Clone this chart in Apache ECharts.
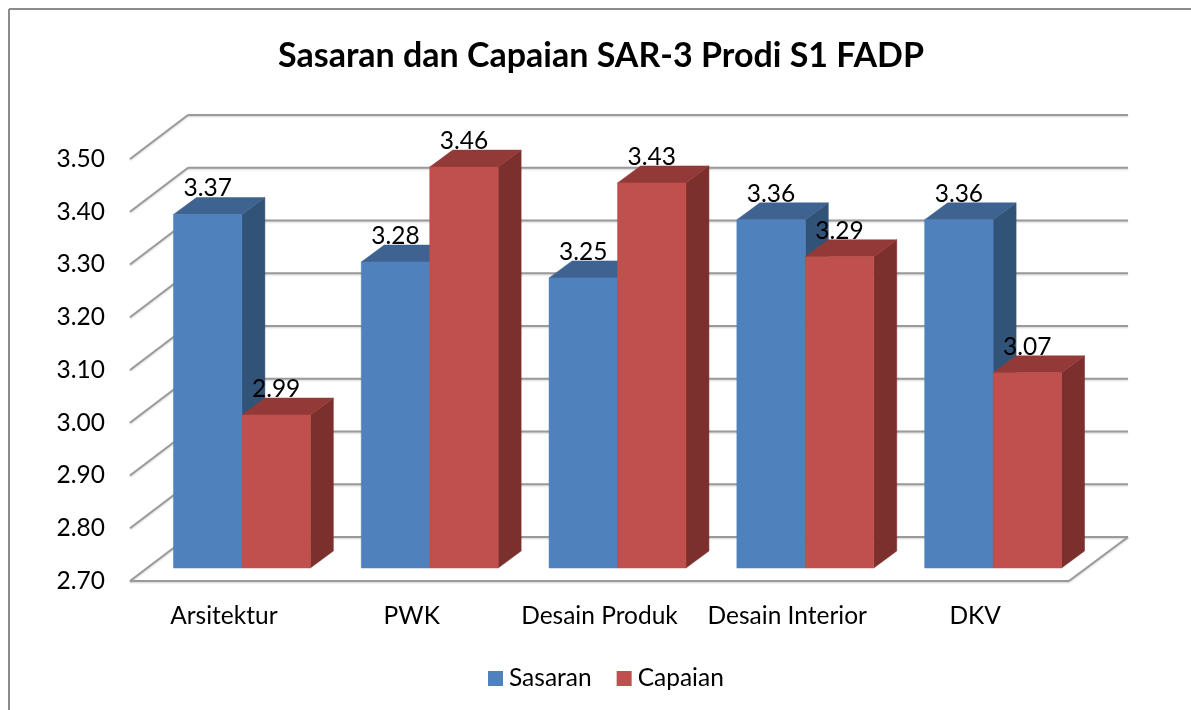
<!DOCTYPE html>
<html>
<head>
<meta charset="utf-8">
<style>html,body{margin:0;padding:0;background:#fff}#c{width:1191px;height:710px}</style>
<script src="https://cdn.jsdelivr.net/npm/echarts@6/dist/echarts.min.js"></script>
</head>
<body>
<div id="c"></div>
<script>
var categories = ['Arsitektur', 'PWK', 'Desain Produk', 'Desain Interior', 'DKV'];
var sasaran = [3.37, 3.28, 3.25, 3.36, 3.36];
var capaian = [2.99, 3.46, 3.43, 3.29, 3.07];
var yTicks = [2.7, 2.8, 2.9, 3.0, 3.1, 3.2, 3.3, 3.4, 3.5];

var FONT = 'Lato';
var FS = 24.5;
var WALL = [58, -44], BAR_OFF = [18, -13], DEPTH = [23, -17];
var BAR_RATIO = 0.3645;
var LABEL_RISE = 26;
var GRID_COLOR = '#9a9a9a';

function poly(points, fill) {
  return { type: 'polygon', shape: { points: points }, style: { fill: fill, stroke: fill, lineWidth: 0.5 } };
}
function line(x1, y1, x2, y2) {
  return { type: 'line', shape: { x1: x1, y1: y1, x2: x2, y2: y2 },
    style: { stroke: GRID_COLOR, lineWidth: 2, fill: null, shadowColor: 'rgba(0,0,0,0.18)', shadowBlur: 2, shadowOffsetY: 1 } };
}
function barSeries(name, values, slot, front, top, side) {
  return {
    type: 'custom', name: name, z: 3 + slot,
    itemStyle: { color: front },
    encode: { x: 0, y: 1 },
    data: values.map(function (v, i) { return [i, v]; }),
    renderItem: function (params, api) {
      var i = api.value(0), v = api.value(1);
      var t = api.coord([i, v]), b = api.coord([i, yTicks[0]]);
      var w = api.size([1, 0])[0] * BAR_RATIO;
      var x0 = t[0] + BAR_OFF[0] + (slot - 1) * w, x1 = x0 + w;
      var yT = t[1] + BAR_OFF[1], yB = b[1] + BAR_OFF[1];
      var dx = DEPTH[0], dy = DEPTH[1];
      return { type: 'group', children: [
        poly([[x1, yT], [x1 + dx, yT + dy], [x1 + dx, yB + dy], [x1, yB]], side),
        poly([[x0, yT], [x0 + dx, yT + dy], [x1 + dx, yT + dy], [x1, yT]], top),
        poly([[x0, yT], [x1, yT], [x1, yB], [x0, yB]], front),
        { type: 'text', z2: 10, style: { x: (x0 + x1) / 2, y: yT - LABEL_RISE, text: v.toFixed(2), align: 'center', verticalAlign: 'middle',
            font: FS + 'px ' + FONT, fill: '#000' } }
      ] };
    }
  };
}

var chart = echarts.init(document.getElementById('c'), null, { renderer: 'canvas' });
chart.setOption({
  backgroundColor: '#fff',
  animation: false,
  title: { text: 'Sasaran dan Capaian SAR-3 Prodi S1 FADP', left: 273, top: 34,
    textStyle: { fontFamily: FONT, fontWeight: 'bold', fontSize: 34, color: '#000' } },
  legend: { left: 483, top: 661, itemWidth: 15, itemHeight: 15, itemGap: 25, data: [
      { name: 'Sasaran', icon: 'rect' }, { name: 'Capaian', icon: 'rect' }],
    textStyle: { fontFamily: FONT, fontSize: FS, color: '#000', padding: [0, 0, 0, 1] } },
  grid: { left: 130, width: 939, top: 159, height: 422 },
  xAxis: { type: 'category', data: categories,
    axisLine: { show: false }, axisTick: { show: false }, splitLine: { show: false },
    axisLabel: { fontFamily: FONT, fontSize: FS, color: '#000', margin: 23, interval: 0 } },
  yAxis: { type: 'value', min: 2.7, max: 3.5, interval: 0.1,
    axisLine: { show: false }, axisTick: { show: false }, splitLine: { show: false },
    axisLabel: { fontFamily: FONT, fontSize: FS, color: '#000', margin: 25,
      formatter: function (v) { return v.toFixed(2); } } },
  graphic: [
    { type: 'line', shape: { x1: 9, y1: 9, x2: 9, y2: 710 }, style: { stroke: '#8c8c8c', lineWidth: 2 } },
    { type: 'line', shape: { x1: 9, y1: 9, x2: 1191, y2: 9 }, style: { stroke: '#8c8c8c', lineWidth: 2 } }
  ],
  series: [
    { type: 'custom', name: 'grid3d', z: 1, silent: true,
      encode: { y: 0 },
      data: yTicks.map(function (v) { return [v]; }),
      renderItem: function (params, api) {
        var v = api.value(0), cs = params.coordSys;
        var y = api.coord([0, v])[1], xL = cs.x, xR = cs.x + cs.width;
        var kids = [
          line(xL, y, xL + WALL[0], y + WALL[1]),
          line(xL + WALL[0], y + WALL[1], xR + WALL[0] + 1, y + WALL[1])
        ];
        if (v === yTicks[0]) {
          kids.push(line(xL, y, xR, y));
          kids.push(line(xR, y, xR + WALL[0] + 1, y + WALL[1]));
        }
        return { type: 'group', children: kids };
      }
    },
    barSeries('Sasaran', sasaran, 0, '#4F81BD', '#3E6390', '#325378'),
    barSeries('Capaian', capaian, 1, '#C0504D', '#933A38', '#7B302E')
  ]
});
</script>
</body>
</html>
